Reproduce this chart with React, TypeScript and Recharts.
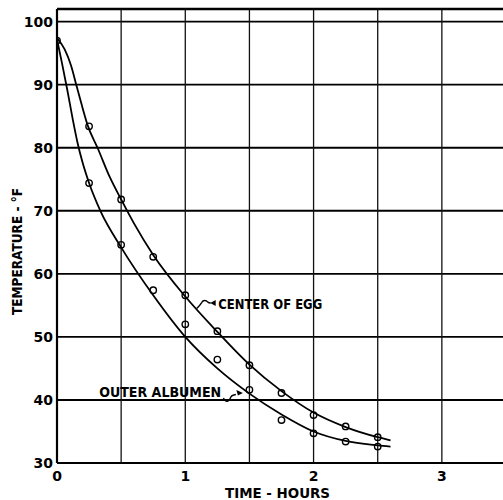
import {
  ComposedChart,
  Line,
  Scatter,
  XAxis,
  YAxis,
  CartesianGrid,
  ReferenceLine,
  ReferenceDot,
} from "recharts";

// --------------------
// Data
// --------------------
const timeTicks = [0, 0.5, 1, 1.5, 2, 2.5, 3, 3.5];
const tempTicks = [30, 40, 50, 60, 70, 80, 90, 100];

// smooth fitted curves
const centerCurve = [
  { x: 0, y: 97.4 },
  { x: 0.06, y: 95.6 },
  { x: 0.11, y: 93.0 },
  { x: 0.15, y: 90.0 },
  { x: 0.19, y: 87.0 },
  { x: 0.24, y: 83.5 },
  { x: 0.32, y: 79.8 },
  { x: 0.41, y: 75.4 },
  { x: 0.5, y: 71.8 },
  { x: 0.6, y: 68.0 },
  { x: 0.75, y: 63.0 },
  { x: 1.0, y: 56.4 },
  { x: 1.25, y: 50.8 },
  { x: 1.5, y: 45.6 },
  { x: 1.75, y: 41.4 },
  { x: 2.0, y: 38.0 },
  { x: 2.25, y: 35.7 },
  { x: 2.5, y: 34.1 },
  { x: 2.6, y: 33.6 },
];

const albumenCurve = [
  { x: 0, y: 97.2 },
  { x: 0.04, y: 93.3 },
  { x: 0.08, y: 89.2 },
  { x: 0.12, y: 84.8 },
  { x: 0.16, y: 80.8 },
  { x: 0.2, y: 77.6 },
  { x: 0.25, y: 74.4 },
  { x: 0.34, y: 69.9 },
  { x: 0.5, y: 64.2 },
  { x: 0.75, y: 56.6 },
  { x: 1.0, y: 50.0 },
  { x: 1.25, y: 45.0 },
  { x: 1.5, y: 41.0 },
  { x: 1.75, y: 37.7 },
  { x: 2.0, y: 35.0 },
  { x: 2.25, y: 33.5 },
  { x: 2.5, y: 32.8 },
  { x: 2.6, y: 32.6 },
];

// measured points (open circles)
const centerPoints = [
  { x: 0, y: 97.0 },
  { x: 0.25, y: 83.4 },
  { x: 0.5, y: 71.8 },
  { x: 0.75, y: 62.7 },
  { x: 1.0, y: 56.6 },
  { x: 1.25, y: 50.9 },
  { x: 1.5, y: 45.5 },
  { x: 1.75, y: 41.1 },
  { x: 2.0, y: 37.6 },
  { x: 2.25, y: 35.8 },
  { x: 2.5, y: 34.1 },
];

const albumenPoints = [
  { x: 0.25, y: 74.4 },
  { x: 0.5, y: 64.6 },
  { x: 0.75, y: 57.4 },
  { x: 1.0, y: 52.0 },
  { x: 1.25, y: 46.4 },
  { x: 1.5, y: 41.6 },
  { x: 1.75, y: 36.8 },
  { x: 2.0, y: 34.7 },
  { x: 2.25, y: 33.4 },
  { x: 2.5, y: 32.6 },
];

const FONT = "'DejaVu Sans', 'Liberation Sans', sans-serif";
const NARROW = "'DejaVu Sans Condensed', 'Liberation Sans Narrow', 'DejaVu Sans', sans-serif";

// open circle marker
function Ring(props: any) {
  return (
    <circle cx={props.cx} cy={props.cy} r={3.2} fill="none" stroke="#000" strokeWidth={1.4} />
  );
}

// "CENTER OF EGG" with wavy leader
function CenterLabel(props: any) {
  const { cx, cy } = props;
  return (
    <g>
      <path
        d={`M${cx},${cy} q3,-3 5,-6 q1,-2 3,-2 q2,0 3,1.5 q1,1 3,1`}
        fill="none"
        stroke="#000"
        strokeWidth={1.4}
      />
      <polygon
        points={`${cx + 13.5},${cy - 5.5} ${cx + 19},${cy - 8.5} ${cx + 19},${cy - 2.5}`}
        fill="#000"
      />
      <text
        x={cx + 21.5}
        y={cy - 5}
        dominantBaseline="central"
        fontFamily={NARROW}
        fontWeight="bold"
        fontSize={13.5}
        textLength={104}
        lengthAdjust="spacingAndGlyphs"
        fill="#000"
      >
        CENTER OF EGG
      </text>
    </g>
  );
}

// "OUTER ALBUMEN" with wavy leader
function AlbumenLabel(props: any) {
  const { cx, cy } = props;
  return (
    <g>
      <path
        d={`M${cx - 19.5},${cy + 5} q2,4 4.5,3 q2,-1 3,-4 q1,-2 5,-2.5`}
        fill="none"
        stroke="#000"
        strokeWidth={1.4}
      />
      <polygon
        points={`${cx},${cy} ${cx - 6.5},${cy - 3} ${cx - 5},${cy + 2.5}`}
        fill="#000"
      />
      <text
        x={cx - 21.7}
        y={cy - 1}
        dominantBaseline="central"
        textAnchor="end"
        fontFamily={NARROW}
        fontWeight="bold"
        fontSize={13.5}
        textLength={122}
        lengthAdjust="spacingAndGlyphs"
        fill="#000"
      >
        OUTER ALBUMEN
      </text>
    </g>
  );
}

export default function App() {
  const tickStyle = { fill: "#000", fontSize: 14, fontWeight: "bold", fontFamily: FONT };

  return (
    <div
      style={{
        position: "fixed",
        left: 0,
        top: 0,
        width: 503,
        height: 500,
        overflow: "hidden",
        background: "#fff",
      }}
    >
      <ComposedChart width={506} height={500} margin={{ top: 9, right: 0, bottom: 0, left: 0 }}>
        <CartesianGrid vertical={false} stroke="#000" strokeWidth={1.9} />
        <CartesianGrid horizontal={false} stroke="#111" strokeWidth={1.3} />
        <XAxis
          type="number"
          dataKey="x"
          domain={[0, 3.5]}
          ticks={timeTicks}
          tickFormatter={(v: number) => (Number.isInteger(v) ? String(v) : "")}
          height={37}
          axisLine={{ stroke: "#000", strokeWidth: 2.2 }}
          tickLine={false}
          tickSize={4}
          tickMargin={4}
          tick={tickStyle}
          allowDataOverflow
        />
        <YAxis
          type="number"
          dataKey="y"
          domain={[30, 102]}
          ticks={tempTicks}
          width={57}
          axisLine={{ stroke: "#000", strokeWidth: 2.2 }}
          tickLine={false}
          tickSize={2}
          tickMargin={2}
          tick={tickStyle}
          allowDataOverflow
        />
        <ReferenceLine y={102} stroke="#000" strokeWidth={2.6} />

        <Line
          data={centerCurve}
          dataKey="y"
          type="monotone"
          stroke="#000"
          strokeWidth={1.8}
          dot={false}
          isAnimationActive={false}
        />
        <Line
          data={albumenCurve}
          dataKey="y"
          type="monotone"
          stroke="#000"
          strokeWidth={1.8}
          dot={false}
          isAnimationActive={false}
        />
        <Scatter data={centerPoints} dataKey="y" shape={Ring} isAnimationActive={false} />
        <Scatter data={albumenPoints} dataKey="y" shape={Ring} isAnimationActive={false} />

        <ReferenceDot x={1.089} y={54.5} r={0} shape={CenterLabel} />
        <ReferenceDot x={1.449} y={41.1} r={0} shape={AlbumenLabel} />
      </ComposedChart>

      {/* axis titles */}
      <svg
        width={503}
        height={500}
        style={{ position: "absolute", left: 0, top: 0, pointerEvents: "none" }}
      >
        <text
          x={17}
          y={251.5}
          transform="rotate(-90 17 251.5)"
          textAnchor="middle"
          dominantBaseline="central"
          fontFamily={NARROW}
          fontWeight="bold"
          fontSize={13.5}
          textLength={127}
          lengthAdjust="spacingAndGlyphs"
          fill="#000"
        >
          TEMPERATURE - °F
        </text>
        <text
          x={277.5}
          y={493}
          textAnchor="middle"
          dominantBaseline="central"
          fontFamily={NARROW}
          fontWeight="bold"
          fontSize={14}
          textLength={105}
          lengthAdjust="spacingAndGlyphs"
          fill="#000"
        >
          TIME - HOURS
        </text>
      </svg>
    </div>
  );
}
